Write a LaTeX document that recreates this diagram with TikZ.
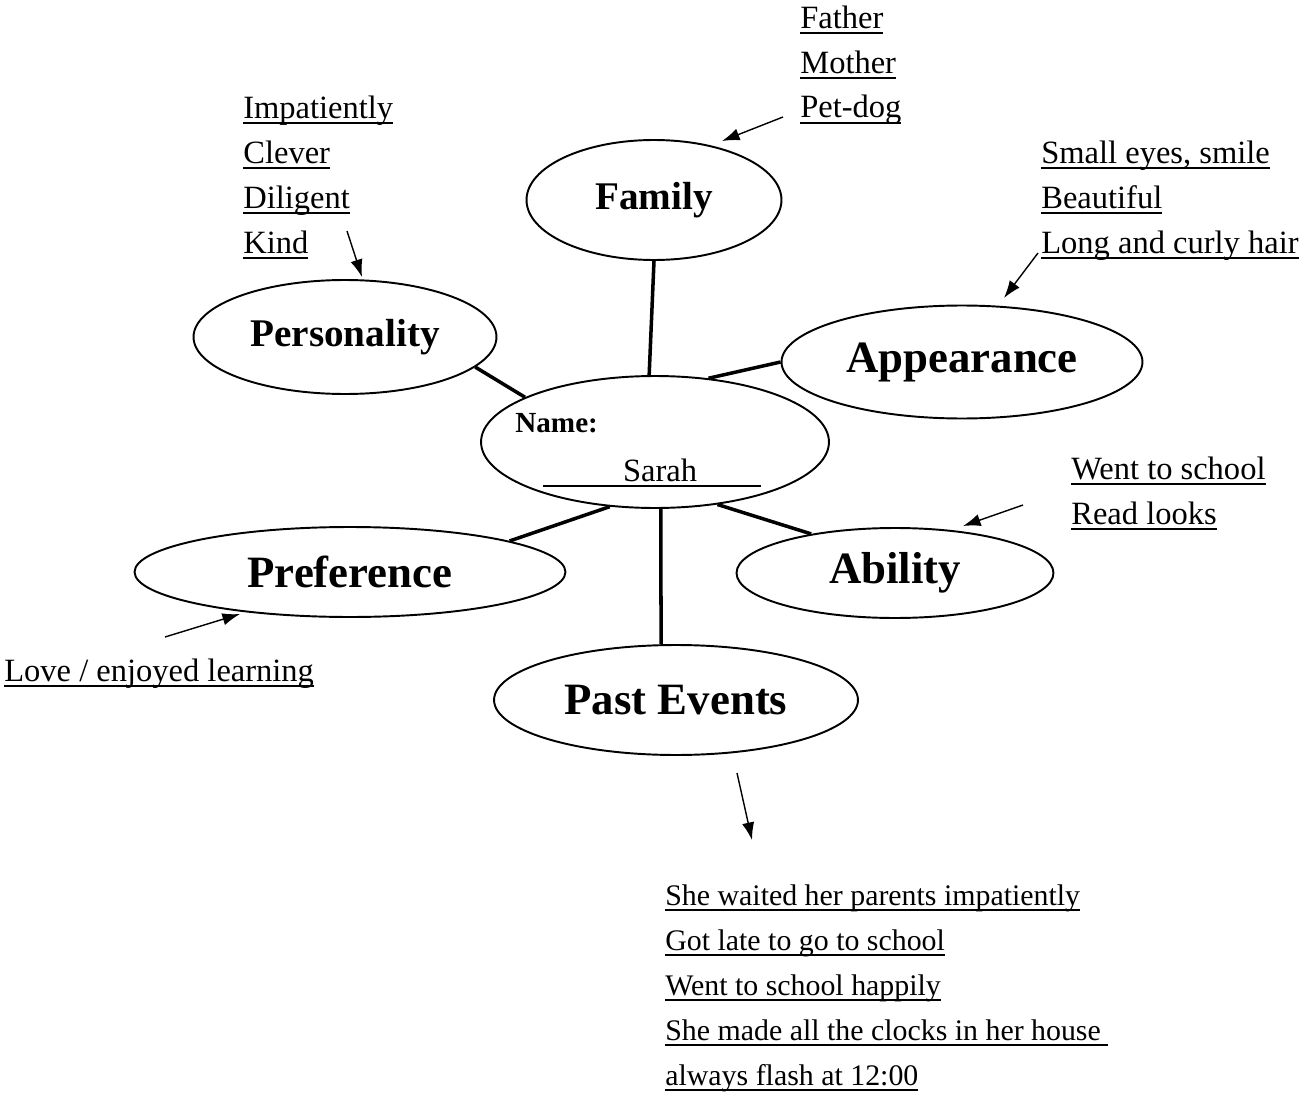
\documentclass[tikz,border=0pt]{standalone}
\usepackage{fontspec}
\setmainfont{Liberation Serif}
\usepackage{tikz}
\usetikzlibrary{shapes.geometric,arrows.meta}

\newcommand{\ulword}[1]{\setbox0\hbox{#1}\rlap{\rule[-3.2pt]{\wd0}{1.1pt}}\box0}

\begin{document}
\begin{tikzpicture}[x=0.02cm, y=-0.02cm,
  bubble/.style={draw, ellipse, line width=1.1pt, inner sep=0pt, font=\bfseries\fontsize{25.5}{30}\selectfont},
  smallbubble/.style={bubble, font=\bfseries\fontsize{22.3}{26}\selectfont},
  link/.style={line width=2pt},
  pointer/.style={line width=0.8pt, -{Latex[length=10pt,width=7pt]}},
  notes/.style={anchor=base west, align=left, inner sep=0pt, font=\fontsize{18.5}{25.5}\selectfont}]
  \useasboundingbox (0,0) rectangle (1302,1095);
  % centre
  \node[bubble, minimum width=6.96cm, minimum height=2.64cm] (name) at (655,442) {};
  \node[anchor=base west, inner sep=0pt, font=\bfseries\fontsize{16.6}{20}\selectfont] (namelbl) at (515,432) {Name:};
  \node[anchor=base, inner sep=0pt, font=\fontsize{18.5}{22}\selectfont] (namefld) at (652,481) {\ulword{\makebox[4.36cm]{\hspace{0.32cm}Sarah}}};
  % bubbles
  \node[smallbubble, minimum width=5.1cm, minimum height=2.4cm] (family) at (654,200) {Family};
  \node[smallbubble, minimum width=6.06cm, minimum height=2.28cm] (personality) at (345,337) {Personality};
  \node[bubble, minimum width=7.22cm, minimum height=2.26cm] (appearance) at (962,362) {Appearance};
  \node[bubble, minimum width=8.62cm, minimum height=1.8cm] (preference) at (350,572) {Preference};
  \node[bubble, minimum width=6.34cm, minimum height=1.8cm] (ability) at (895,573) {Ability};
  \node[bubble, minimum width=7.28cm, minimum height=2.2cm] (pastevents) at (676,700) {Past Events};
  %
  \draw[link] (family.south) -- (name.95);
  \draw[link] (personality.-13) -- (name.161);
  \draw[link] (name.50) -- (appearance.west);
  \draw[link] (preference.11) -- (name.235);
  \draw[link] (name.-85) -- (pastevents.105);
  \draw[link] (name.-45) -- (ability.155);
  % notes (anchored at the last line)
  \node[notes] (familynotes) at (800,118) {\ulword{Father}\\\ulword{Mother}\\\ulword{Pet-dog}};
  \node[notes] (personalitynotes) at (243,253) {\ulword{Impatiently}\\\ulword{Clever}\\\ulword{Diligent}\\\ulword{Kind}};
  \node[notes] (appearancenotes) at (1041,253) {\ulword{Small eyes, smile}\\\ulword{Beautiful}\\\ulword{Long and curly hair}};
  \node[notes] (abilitynotes) at (1071,524) {\ulword{Went to school}\\\ulword{Read looks}};
  \node[notes] (preferencenotes) at (4,681) {\ulword{Love / enjoyed learning}};
  \node[notes, font=\fontsize{17}{25.5}\selectfont] (pastnotes) at (665,1085) {\ulword{She waited her parents impatiently}\\\ulword{Got late to go to school}\\\ulword{Went to school happily}\\\ulword{She made all the clocks in her house\ }\\\ulword{always flash at 12:00}};
  % pointers
  \coordinate (famtail) at (783,117);
  \coordinate (famhead) at (722,141);
  \coordinate (perstail) at (347,231);
  \coordinate (pershead) at (362,277);
  \coordinate (apptail) at (1038,253);
  \coordinate (apphead) at (1004,298);
  \coordinate (abiltail) at (1023,505);
  \coordinate (abilhead) at (963,526);
  \coordinate (preftail) at (165,637);
  \coordinate (prefhead) at (240,614);
  \coordinate (pasttail) at (737,773);
  \coordinate (pasthead) at (752,840);
  \draw[pointer] (famtail) -- (famhead);
  \draw[pointer] (perstail) -- (pershead);
  \draw[pointer] (apptail) -- (apphead);
  \draw[pointer] (abiltail) -- (abilhead);
  \draw[pointer] (preftail) -- (prefhead);
  \draw[pointer] (pasttail) -- (pasthead);
\end{tikzpicture}
\end{document}
